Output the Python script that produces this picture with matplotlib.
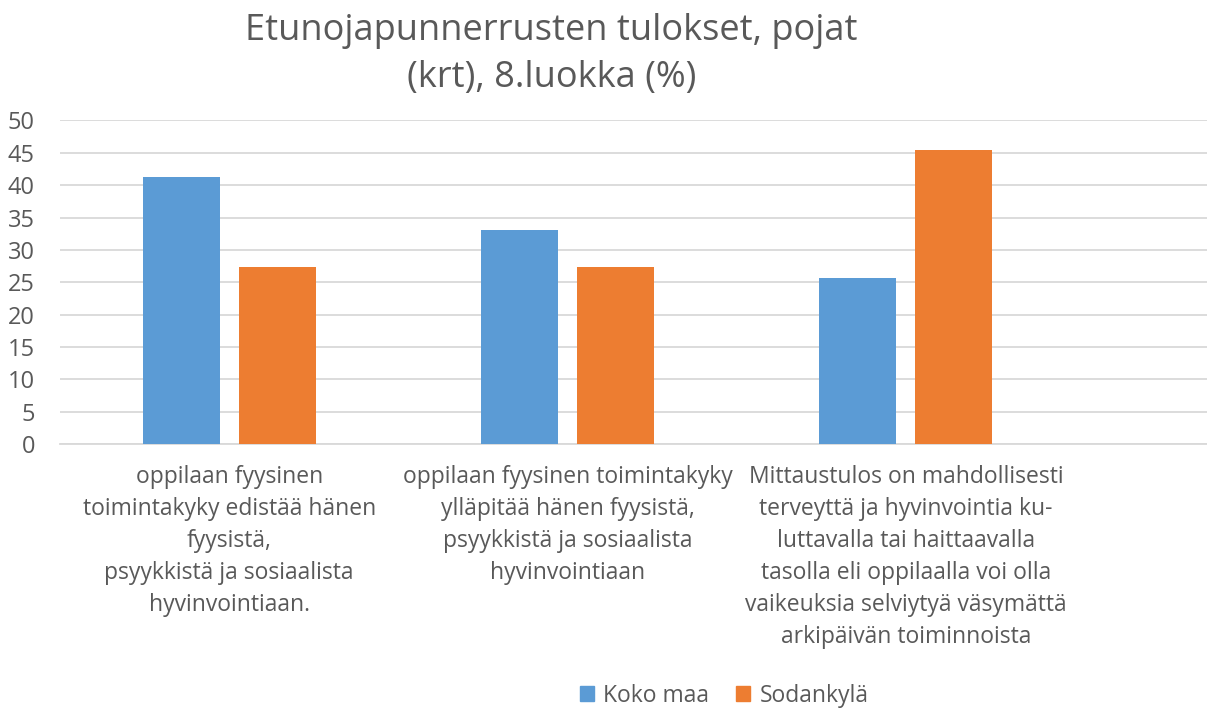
import numpy as np
import matplotlib.pyplot as plt
from matplotlib.patches import Patch

# data
categories = [
    'oppilaan fyysinen\ntoimintakyky edistää hänen\nfyysistä,\npsyykkistä ja sosiaalista\nhyvinvointiaan.',
    'oppilaan fyysinen toimintakyky\nylläpitää hänen fyysistä,\npsyykkistä ja sosiaalista\nhyvinvointiaan',
    'Mittaustulos on mahdollisesti\nterveyttä ja hyvinvointia ku-\nluttavalla tai haittaavalla\ntasolla eli oppilaalla voi olla\nvaikeuksia selviytyä väsymättä\narkipäivän toiminnoista',
]
koko_maa = [41.3, 33.1, 25.6]
sodankyla = [27.3, 27.3, 45.5]
series_names = ['Koko maa', 'Sodankylä']
yticks = list(range(0, 55, 5))

blue = '#5B9BD5'
orange = '#ED7D31'
txt = '#595959'
plt.rcParams['font.family'] = ['Open Sans', 'DejaVu Sans']

fig = plt.figure(figsize=[12.07, 7.10], dpi=100)
ax = fig.add_axes([0.0497, 0.3746, 0.9503, 0.4557])

x = np.arange(len(categories))
w = 0.228
ax.bar(x - 0.142, koko_maa, w, color=blue, zorder=3)
ax.bar(x + 0.142, sodankyla, w, color=orange, zorder=3)

ax.set_ylim(0, 50)
ax.set_xlim(-0.5, 2.89)
ax.set_yticks(yticks)
ax.set_xticks(x)
ax.set_xticklabels(categories, fontsize=16.5, color=txt, linespacing=1.45, va='top')
ax.tick_params(axis='y', labelsize=17, labelcolor=txt, length=0, pad=18)
ax.tick_params(axis='x', length=0, pad=15)
ax.grid(axis='y', color='#D9D9D9', linewidth=1.3, zorder=0)
for s in ['top', 'right', 'left']:
    ax.spines[s].set_visible(False)
ax.spines['bottom'].set_color('#D9D9D9')
ax.spines['bottom'].set_linewidth(1.3)

fig.text(0.457, 0.982, 'Etunojapunnerrusten tulokset, pojat\n(krt), 8.luokka (%)',
         ha='center', va='top', fontsize=26, color=txt, linespacing=1.4)

handles = [Patch(color=blue), Patch(color=orange)]
fig.legend(handles, series_names, loc='center', bbox_to_anchor=(0.6, 0.02), ncol=2,
           frameon=False, fontsize=16.5, labelcolor=txt, handlelength=0.6, handleheight=0.6,
           handletextpad=0.4, columnspacing=1.2)

plt.savefig('out.png')
